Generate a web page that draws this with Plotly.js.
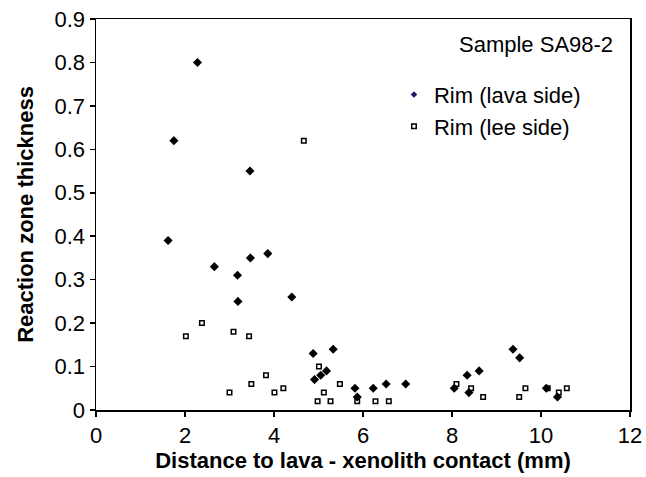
<!DOCTYPE html>
<html><head><meta charset="utf-8">
<script src="https://cdn.plot.ly/plotly-3.0.1.min.js"></script>
<style>html,body{margin:0;padding:0;background:#fff}</style>
</head><body>
<div id="chart" style="width:646px;height:477px"></div>
<script>
const lavaX = [2.28, 1.75, 3.46, 1.62, 2.66, 3.18, 3.47, 3.86, 3.19, 4.40, 4.88, 5.33, 4.91, 5.05, 5.18, 5.82, 5.87, 6.23, 6.52, 6.96, 8.05, 8.34, 8.38, 8.61, 9.37, 9.52, 10.12, 10.37];
const lavaY = [0.80, 0.62, 0.55, 0.39, 0.33, 0.31, 0.35, 0.36, 0.25, 0.26, 0.13, 0.14, 0.07, 0.08, 0.09, 0.05, 0.03, 0.05, 0.06, 0.06, 0.05, 0.08, 0.04, 0.09, 0.14, 0.12, 0.05, 0.03];
const leeX = [4.67, 2.02, 2.38, 3.09, 3.44, 3.00, 3.49, 3.82, 4.01, 4.21, 5.01, 5.48, 5.12, 4.98, 5.27, 5.87, 6.28, 6.58, 8.10, 8.43, 8.70, 9.51, 9.65, 10.15, 10.40, 10.58];
const leeY = [0.62, 0.17, 0.20, 0.18, 0.17, 0.04, 0.06, 0.08, 0.04, 0.05, 0.10, 0.06, 0.04, 0.02, 0.02, 0.02, 0.02, 0.02, 0.06, 0.05, 0.03, 0.03, 0.05, 0.05, 0.04, 0.05];
const seriesNames = ["Rim (lava side)", "Rim (lee side)"];
const xTicks = [0, 2, 4, 6, 8, 10, 12];
const yTicks = [0, 0.1, 0.2, 0.3, 0.4, 0.5, 0.6, 0.7, 0.8, 0.9];

const traces = [
  {x: lavaX, y: lavaY, mode: 'markers', type: 'scatter', showlegend: false,
   marker: {symbol: 'diamond', size: 7, color: '#000000'}},
  {x: leeX, y: leeY, mode: 'markers', type: 'scatter', showlegend: false,
   marker: {symbol: 'square-open', size: 4.5, color: '#000000', line: {width: 1.5, color: '#000000'}}},
  {x: [null], y: [null], mode: 'markers', type: 'scatter', name: seriesNames[0],
   marker: {symbol: 'diamond', size: 5, color: '#1a1a70'}},
  {x: [null], y: [null], mode: 'markers', type: 'scatter', name: seriesNames[1],
   marker: {symbol: 'square-open', size: 4.5, color: '#000000', line: {width: 1.5, color: '#000000'}}}
];

const font = {family: 'Liberation Sans, Arial, sans-serif', color: '#000'};
const F = s => Object.assign({size: s}, font);
const layout = {
  width: 646, height: 477,
  margin: {l: 96, r: 16, t: 19, b: 67},
  paper_bgcolor: '#fff', plot_bgcolor: '#fff',
  font: F(22),
  showlegend: true,
  legend: {x: 0.558, y: 0.86, xanchor: 'left', yanchor: 'top', bgcolor: 'rgba(0,0,0,0)',
           font: F(22), itemwidth: 30, tracegroupgap: 0},
  xaxis: {range: [0, 12], tickvals: xTicks, ticktext: xTicks.map(String),
          showgrid: false, zeroline: false, showline: true, mirror: true, linecolor: '#000', linewidth: 1.5,
          ticks: 'outside', ticklen: 5, tickwidth: 1.5, tickcolor: '#000',
          tickfont: F(22),
          title: {text: '<b>Distance to lava - xenolith contact (mm)</b>', font: F(22), standoff: 5}},
  yaxis: {range: [0, 0.9], tickvals: yTicks, ticktext: yTicks.map(v => v === 0 ? '0' : v.toFixed(1)),
          showgrid: false, zeroline: false, showline: true, mirror: true, linecolor: '#000', linewidth: 1.5,
          ticks: 'outside', ticklen: 5, tickwidth: 1.5, tickcolor: '#000',
          tickfont: F(22),
          title: {text: '<b>Reaction zone thickness</b>', font: F(22), standoff: 15}},
  annotations: [{text: 'Sample SA98-2', xref: 'paper', yref: 'paper', x: 0.972, y: 0.936,
                 xanchor: 'right', yanchor: 'middle', showarrow: false, font: F(22)}]
};
Plotly.newPlot('chart', traces, layout, {displayModeBar: false, staticPlot: true});
</script>
</body></html>
